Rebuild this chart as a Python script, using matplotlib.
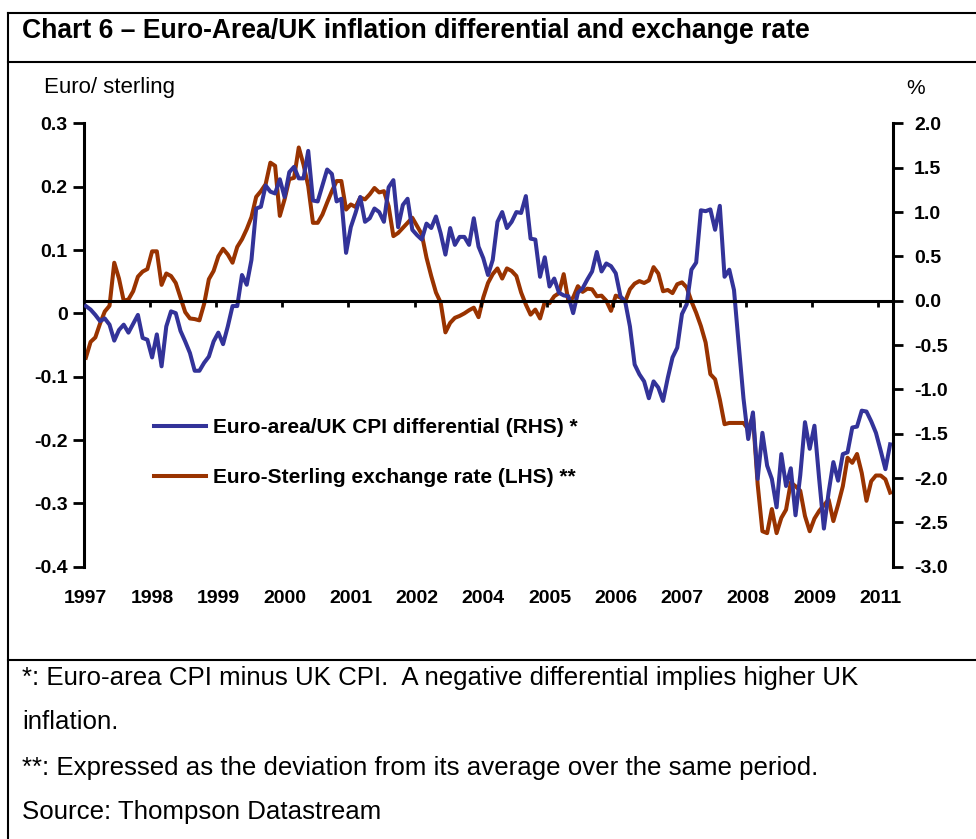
import numpy as np
import matplotlib
matplotlib.use('Agg')
import matplotlib.pyplot as plt
from matplotlib.lines import Line2D

plt.rcParams['font.family'] = ['Liberation Sans', 'DejaVu Sans']

# monthly, Jan 1997 to Mar 2011
# euro-sterling exchange rate, deviation from period average (LHS)
fx_dev = [-0.070, -0.045, -0.038, -0.016, 0.003, 0.012, 0.080, 0.055, 0.020, 0.022,
          0.035, 0.058, 0.066, 0.070, 0.098, 0.098, 0.045, 0.063, 0.059, 0.048,
          0.025, 0.002, -0.008, -0.009, -0.011, 0.015, 0.054, 0.067, 0.090, 0.102,
          0.093, 0.080, 0.105, 0.117, 0.133, 0.152, 0.184, 0.193, 0.204, 0.238,
          0.233, 0.154, 0.180, 0.212, 0.214, 0.262, 0.235, 0.201, 0.143, 0.143,
          0.156, 0.175, 0.193, 0.209, 0.209, 0.164, 0.172, 0.168, 0.183, 0.180,
          0.188, 0.198, 0.191, 0.193, 0.169, 0.122, 0.127, 0.135, 0.143, 0.151,
          0.138, 0.125, 0.088, 0.059, 0.033, 0.017, -0.030, -0.015, -0.007, -0.004,
          0.000, 0.005, 0.009, -0.006, 0.025, 0.048, 0.062, 0.071, 0.055, 0.071,
          0.067, 0.059, 0.033, 0.014, -0.002, 0.006, -0.008, 0.018, 0.016, 0.027,
          0.032, 0.062, 0.019, 0.025, 0.043, 0.034, 0.039, 0.038, 0.027, 0.028,
          0.020, 0.004, 0.028, 0.025, 0.019, 0.038, 0.047, 0.051, 0.048, 0.052,
          0.073, 0.063, 0.035, 0.037, 0.032, 0.046, 0.049, 0.041, 0.019, 0.001,
          -0.020, -0.046, -0.096, -0.104, -0.136, -0.175, -0.173, -0.173, -0.173, -0.173,
          -0.183, -0.162, -0.270, -0.344, -0.347, -0.309, -0.347, -0.323, -0.310, -0.267,
          -0.273, -0.280, -0.320, -0.344, -0.324, -0.312, -0.303, -0.294, -0.328, -0.302,
          -0.273, -0.228, -0.236, -0.222, -0.252, -0.296, -0.265, -0.256, -0.256, -0.262,
          -0.283]

# euro-area CPI minus UK CPI, % (RHS)
cpi_diff = [-0.06, -0.10, -0.16, -0.23, -0.20, -0.27, -0.45, -0.33, -0.27, -0.36,
            -0.26, -0.16, -0.42, -0.44, -0.64, -0.38, -0.74, -0.29, -0.12, -0.14,
            -0.34, -0.46, -0.59, -0.79, -0.79, -0.70, -0.63, -0.46, -0.36, -0.49,
            -0.29, -0.06, -0.06, 0.29, 0.18, 0.46, 1.04, 1.06, 1.30, 1.23,
            1.21, 1.37, 1.17, 1.45, 1.51, 1.38, 1.38, 1.69, 1.13, 1.12,
            1.30, 1.48, 1.43, 1.12, 1.15, 0.54, 0.83, 0.99, 1.17, 0.89,
            0.93, 1.04, 1.00, 0.89, 1.28, 1.36, 0.83, 1.08, 1.15, 0.80,
            0.74, 0.69, 0.87, 0.82, 0.95, 0.76, 0.52, 0.82, 0.63, 0.72,
            0.72, 0.63, 0.93, 0.61, 0.48, 0.29, 0.46, 0.89, 1.00, 0.82,
            0.89, 1.00, 0.99, 1.18, 0.70, 0.69, 0.27, 0.49, 0.16, 0.25,
            0.09, 0.06, 0.05, -0.14, 0.09, 0.14, 0.24, 0.33, 0.55, 0.33,
            0.42, 0.39, 0.31, 0.05, -0.01, -0.29, -0.72, -0.83, -0.91, -1.10,
            -0.91, -0.98, -1.13, -0.87, -0.64, -0.53, -0.15, -0.04, 0.35, 0.43,
            1.02, 1.01, 1.03, 0.80, 1.07, 0.27, 0.35, 0.12, -0.50, -1.10,
            -1.56, -1.26, -2.01, -1.49, -1.86, -2.01, -2.33, -1.73, -2.09, -1.89,
            -2.42, -1.97, -1.37, -1.67, -1.41, -2.01, -2.57, -2.16, -1.82, -2.03,
            -1.73, -1.71, -1.43, -1.42, -1.24, -1.25, -1.36, -1.49, -1.69, -1.90,
            -1.62]

# category axis labelled every 14 months (so 2003 and 2010 get skipped)
years = ['1997', '1998', '1999', '2000', '2001', '2002', '2004',
         '2005', '2006', '2007', '2008', '2009', '2011']
label_every = 14
left_ticks = [-0.4, -0.3, -0.2, -0.1, 0.0, 0.1, 0.2, 0.3]
right_ticks = [-3.0, -2.5, -2.0, -1.5, -1.0, -0.5, 0.0, 0.5, 1.0, 1.5, 2.0]

title = 'Chart 6 \u2013 Euro-Area/UK inflation differential and exchange rate'
notes = ['*: Euro-area CPI minus UK CPI.  A negative differential implies higher UK',
         'inflation.',
         '**: Expressed as the deviation from its average over the same period.',
         'Source: Thompson Datastream']

W, H = 976, 839
fig = plt.figure(figsize=(W / 100, H / 100), dpi=100)

def fx(px):
    return px / W

def fy(py):
    return 1 - py / H

blue = '#333399'
brown = '#993300'

ax = fig.add_axes([fx(83.5), fy(566.7), 809 / W, 443.3 / H])
ax2 = ax.twinx()

x = np.arange(len(fx_dev))
l_fx, = ax.plot(x, fx_dev, color=brown, lw=2.9,
                label='Euro-Sterling exchange rate (LHS) **')
l_cpi, = ax2.plot(x, cpi_diff, color=blue, lw=2.9,
                  label='Euro-area/UK CPI differential (RHS) *')

ax.set_xlim(-0.5, len(x) - 0.5)
ax.set_ylim(-0.4, 0.3)
ax2.set_ylim(-3.0, 2.0)

# y axes
ax.set_yticks(left_ticks, ['0' if v == 0 else f'{v:.1f}' for v in left_ticks],
              fontsize=14, fontweight='bold')
ax2.set_yticks(right_ticks, [f'{v:.1f}' for v in right_ticks],
               fontsize=14, fontweight='bold')
ax.tick_params(axis='y', direction='out', length=8, width=2, pad=3.5)
ax2.tick_params(axis='y', direction='out', length=7.5, width=2, pad=8)

# x axis: tick marks between groups on the zero line, labels at the bottom
ax.set_xticks(np.arange(label_every, len(x), label_every) - 0.5)
ax.set_xticks(np.arange(0, len(x), label_every)[:len(years)], years, minor=True,
              fontsize=14, fontweight='bold')
ax.tick_params(axis='x', which='both', length=0)
ax.tick_params(axis='x', which='major', labelbottom=False)
ax.tick_params(axis='x', which='minor', pad=17)

ax2.xaxis.set_visible(True)
ax2.tick_params(axis='x', which='major', direction='out', length=4, width=2,
                labelbottom=False)
ax2.tick_params(axis='x', which='minor', length=0, labelbottom=False)

for s in ['top', 'right', 'bottom']:
    ax.spines[s].set_visible(False)
for s in ['top', 'left']:
    ax2.spines[s].set_visible(False)
ax.spines['left'].set_linewidth(2.2)
ax2.spines['right'].set_linewidth(2.2)
ax2.spines['bottom'].set_position(('data', 0))
ax2.spines['bottom'].set_linewidth(2.2)

ax2.legend(handles=[l_cpi, l_fx], loc='center left',
           bbox_to_anchor=(fx(154), fy(452.5)), bbox_transform=fig.transFigure,
           frameon=False, prop={'weight': 'bold', 'size': 15},
           handlelength=2.5, handletextpad=0.35, labelspacing=1.5,
           borderpad=0, borderaxespad=0)

# text
fig.text(fx(22), fy(31), title, fontsize=19.1, fontweight='bold', va='center')
fig.text(fx(44), fy(88), 'Euro/ sterling', fontsize=16, va='center')
fig.text(fx(916), fy(88), '%', fontsize=15, va='center', ha='center')
for yy, line in zip([678, 722, 768, 812], notes):
    fig.text(fx(22), fy(yy), line, fontsize=18.65, va='center')

# frame
def hline(py, x0=8, x1=976):
    fig.add_artist(Line2D([fx(x0), fx(x1)], [fy(py), fy(py)], color='black', lw=1.5))

hline(13)
hline(62)
hline(660)
fig.add_artist(Line2D([fx(8), fx(8)], [fy(13), fy(839)], color='black', lw=1.5))

fig.savefig('out.png', dpi=100)
